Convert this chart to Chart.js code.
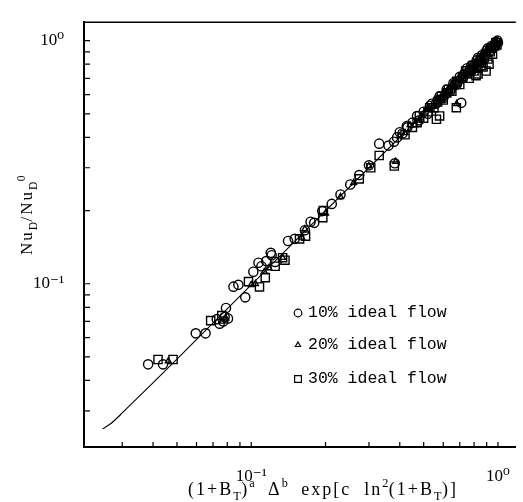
<!DOCTYPE html>
<html>
<head>
<meta charset="utf-8">
<script src="https://cdn.jsdelivr.net/npm/chart.js@4"></script>
<style>
  body { margin: 0; background: #fff; }
  #chart { display: block; }
</style>
</head>
<body>
<canvas id="chart" width="523" height="502"></canvas>
<script>
// 10% ideal flow (circles)
const circleX = [0.0382, 0.0439, 0.0596, 0.0653, 0.0725, 0.0745, 0.077, 0.078, 0.0805, 0.079,
  0.0847, 0.0887, 0.0946, 0.102, 0.107, 0.110, 0.115, 0.120, 0.121, 0.125, 0.141, 0.150,
  0.165, 0.174, 0.180, 0.194, 0.212, 0.230, 0.252, 0.274, 0.300, 0.330, 0.382, 0.379, 0.390,
  0.410, 0.427, 0.45, 0.48, 0.50, 0.52, 0.54, 0.56, 0.58, 0.60, 0.62, 0.64, 0.66, 0.68, 0.70,
  0.72, 0.74, 0.76, 0.78, 0.80, 0.82, 0.84, 0.86, 0.88, 0.90, 0.92, 0.94, 0.96, 0.98, 1.0, 0.71,
  0.47, 0.53, 0.57, 0.61, 0.65, 0.69, 0.73, 0.77, 0.81, 0.85, 0.89, 0.93, 0.97, 0.995, 0.43,
  0.40, 0.36, 0.75, 0.83, 0.91];
const circleY = [0.0466, 0.0466, 0.0625, 0.0625, 0.0715, 0.0685, 0.070, 0.073, 0.072, 0.0795,
  0.0973, 0.099, 0.0879, 0.112, 0.122, 0.118, 0.124, 0.134, 0.131, 0.123, 0.150, 0.153,
  0.166, 0.180, 0.178, 0.199, 0.213, 0.233, 0.256, 0.280, 0.307, 0.377, 0.313, 0.384, 0.400,
  0.415, 0.445, 0.46, 0.47, 0.51, 0.50, 0.55, 0.55, 0.59, 0.58, 0.63, 0.62, 0.67, 0.66, 0.71,
  0.70, 0.75, 0.74, 0.79, 0.78, 0.83, 0.82, 0.87, 0.86, 0.91, 0.90, 0.95, 0.94, 0.99, 0.98, 0.555,
  0.49, 0.54, 0.57, 0.60, 0.64, 0.68, 0.73, 0.76, 0.80, 0.84, 0.88, 0.93, 0.96, 1.0, 0.44,
  0.42, 0.37, 0.77, 0.85, 0.93];

// 20% ideal flow (triangles)
const triX = [0.0461, 0.076, 0.079, 0.100, 0.104, 0.113, 0.118, 0.134, 0.160, 0.165, 0.200,
  0.230, 0.260, 0.300, 0.385, 0.400, 0.420, 0.46, 0.49, 0.51, 0.53, 0.55, 0.57, 0.59, 0.61,
  0.63, 0.65, 0.67, 0.69, 0.71, 0.73, 0.75, 0.77, 0.79, 0.81, 0.83, 0.85, 0.87, 0.89, 0.91,
  0.93, 0.95, 0.97, 0.99, 0.68, 0.48, 0.52, 0.56, 0.60, 0.64, 0.68, 0.72, 0.76, 0.80, 0.84,
  0.88, 0.92, 0.96, 0.98, 0.44];
const triY = [0.048, 0.070, 0.072, 0.099, 0.100, 0.112, 0.116, 0.128, 0.155, 0.168, 0.195,
  0.228, 0.260, 0.305, 0.318, 0.405, 0.418, 0.45, 0.49, 0.52, 0.52, 0.54, 0.58, 0.57, 0.61,
  0.62, 0.66, 0.65, 0.70, 0.69, 0.73, 0.73, 0.78, 0.77, 0.81, 0.80, 0.86, 0.84, 0.90, 0.88,
  0.94, 0.92, 0.98, 0.97, 0.55, 0.47, 0.53, 0.56, 0.59, 0.64, 0.68, 0.71, 0.76, 0.79, 0.84,
  0.88, 0.92, 0.96, 1.0, 0.45];

// 30% ideal flow (squares)
const squareX = [0.0419, 0.0482, 0.0685, 0.076, 0.0975, 0.108, 0.114, 0.125, 0.134, 0.137,
  0.157, 0.166, 0.195, 0.196, 0.274, 0.305, 0.330, 0.380, 0.420, 0.45, 0.47, 0.50, 0.52,
  0.55, 0.563, 0.57, 0.58, 0.60, 0.62, 0.65, 0.67, 0.678, 0.70, 0.72, 0.75, 0.765, 0.78,
  0.80, 0.815, 0.83, 0.84, 0.86, 0.88, 0.895, 0.91, 0.93, 0.95, 0.97, 0.99, 0.48, 0.53,
  0.59, 0.63, 0.68, 0.74, 0.79, 0.85, 0.89, 0.94, 0.98, 0.82, 0.87, 0.92];
const squareY = [0.0488, 0.0488, 0.0705, 0.074, 0.102, 0.097, 0.106, 0.118, 0.128, 0.125,
  0.153, 0.157, 0.187, 0.200, 0.270, 0.300, 0.337, 0.305, 0.410, 0.44, 0.46, 0.48, 0.51,
  0.53, 0.475, 0.56, 0.49, 0.57, 0.61, 0.62, 0.66, 0.53, 0.66, 0.71, 0.73, 0.70, 0.76,
  0.75, 0.718, 0.73, 0.81, 0.79, 0.85, 0.75, 0.84, 0.90, 0.88, 0.95, 0.96, 0.49, 0.53,
  0.59, 0.63, 0.68, 0.75, 0.79, 0.83, 0.88, 0.93, 0.98, 0.77, 0.78, 0.80];

// correlation curve
const fitX = [0.025, 0.027, 0.030, 0.050, 0.100, 0.300, 1.000];
const fitY = [0.0253, 0.0266, 0.0294, 0.049, 0.099, 0.300, 1.000];

// tick positions (log minor ticks), labels only at decades
const xTicks = [0.03, 0.04, 0.05, 0.06, 0.07, 0.08, 0.09, 0.1, 0.2, 0.3, 0.4, 0.5, 0.6, 0.7, 0.8, 0.9, 1];
const yTicks = [0.03, 0.04, 0.05, 0.06, 0.07, 0.08, 0.09, 0.1, 0.2, 0.3, 0.4, 0.5, 0.6, 0.7, 0.8, 0.9, 1];
const decadeLabels = { '0.1': '10⁻¹', '1': '10⁰' };

const legendLabels = ['10% ideal flow', '20% ideal flow', '30% ideal flow'];

const pts = (xs, ys) => xs.map((x, i) => ({ x: x, y: ys[i] }));

const serif = '"Liberation Serif", "DejaVu Serif", serif';

// draw a run of text pieces: [text, 0 normal | 1 subscript | 2 superscript]
function setPart(ctx, m, size) {
  ctx.font = (m ? size * 0.68 : size) + 'px ' + serif;
  ctx.letterSpacing = (m ? 0.5 : 2) + 'px';
}
function richWidth(ctx, parts, size) {
  let w = 0;
  parts.forEach(([t, m]) => {
    setPart(ctx, m, size);
    w += ctx.measureText(t).width;
  });
  return w;
}
function drawRich(ctx, parts, cx, cy, size, angle) {
  ctx.save();
  ctx.translate(cx, cy);
  ctx.rotate(angle);
  ctx.fillStyle = '#000';
  ctx.textBaseline = 'alphabetic';
  ctx.textAlign = 'left';
  let x = -richWidth(ctx, parts, size) / 2;
  parts.forEach(([t, m]) => {
    setPart(ctx, m, size);
    const dy = m === 1 ? size * 0.28 : (m === 2 ? -size * 0.42 : 0);
    ctx.fillText(t, x, dy);
    x += ctx.measureText(t).width;
  });
  ctx.restore();
}

const xTitle = [['(1+B', 0], ['T', 1], [')', 0], ['a', 2], ['  Δ', 0], ['b', 2], ['  exp[c  ln', 0], ['2', 2], ['(1+B', 0], ['T', 1], [')]', 0]];
const yTitle = [['Nu', 0], ['D', 1], ['/Nu', 0], ['D', 1], ['0', 2]];

const framePlugin = {
  id: 'frame',
  afterDraw(chart) {
    const ctx = chart.ctx;
    const a = chart.chartArea;
    const xs = chart.scales.x, ys = chart.scales.y;
    ctx.save();
    ctx.strokeStyle = '#000';
    // top border
    ctx.lineWidth = 1.5;
    ctx.beginPath();
    ctx.moveTo(a.left, a.top);
    ctx.lineTo(a.right, a.top);
    ctx.stroke();
    // inward ticks
    ctx.lineWidth = 1.2;
    ctx.beginPath();
    xs.ticks.forEach(t => {
      const p = xs.getPixelForValue(t.value);
      ctx.moveTo(p, a.bottom);
      ctx.lineTo(p, a.bottom - 5);
    });
    ys.ticks.forEach(t => {
      const p = ys.getPixelForValue(t.value);
      ctx.moveTo(a.left, p);
      ctx.lineTo(a.left + 6, p);
    });
    ctx.stroke();

    // legend inside the plot
    const rowsY = [313, 345, 379];
    chart.data.datasets.slice(0, 3).forEach((ds, i) => {
      ctx.strokeStyle = '#000';
      ctx.fillStyle = 'rgba(0,0,0,0)';
      Chart.helpers.drawPoint(ctx, {
        pointStyle: ds.pointStyle,
        radius: ds.pointStyle === 'rect' ? 4.8 : (ds.pointStyle === 'triangle' ? 3 : 3.8),
        borderWidth: 1.3
      }, 298, rowsY[i]);
      ctx.fillStyle = '#000';
      ctx.font = '16.5px "Liberation Mono", monospace';
      ctx.textBaseline = 'middle';
      ctx.textAlign = 'left';
      ctx.fillText(legendLabels[i], 308, rowsY[i]);
    });
    ctx.restore();

    drawRich(ctx, xTitle, 323, 495, 18, 0);
    drawRich(ctx, yTitle, 32, 215, 17, -Math.PI / 2);
  }
};

const markerStyle = {
  showLine: false,
  borderColor: '#000',
  backgroundColor: 'rgba(0,0,0,0)',
  borderWidth: 1.4,
  pointBorderWidth: 1.4,
  pointHoverRadius: 4
};

new Chart(document.getElementById('chart'), {
  type: 'scatter',
  data: {
    datasets: [
      Object.assign({ label: legendLabels[0], data: pts(circleX, circleY), pointStyle: 'circle', pointRadius: 4.6 }, markerStyle),
      Object.assign({ label: legendLabels[1], data: pts(triX, triY), pointStyle: 'triangle', pointRadius: 3.4 }, markerStyle),
      Object.assign({ label: legendLabels[2], data: pts(squareX, squareY), pointStyle: 'rect', pointRadius: 5.8 }, markerStyle),
      {
        type: 'line',
        label: 'fit',
        data: pts(fitX, fitY),
        borderColor: '#000',
        borderWidth: 1.1,
        pointRadius: 0,
        tension: 0.3,
        fill: false
      }
    ]
  },
  options: {
    responsive: false,
    animation: false,
    devicePixelRatio: 1,
    layout: { padding: { top: 10, right: 3, left: 0, bottom: 0 } },
    plugins: {
      legend: { display: false },
      tooltip: { enabled: false }
    },
    scales: {
      x: {
        type: 'logarithmic',
        min: 0.021,
        max: 1.181,
        afterFit: s => { s.height = 55; },
        afterBuildTicks: s => { s.ticks = xTicks.map(v => ({ value: v })); },
        grid: { display: false },
        border: { display: true, color: '#000', width: 2 },
        ticks: {
          autoSkip: false,
          maxRotation: 0,
          padding: 11,
          color: '#000',
          font: { family: serif, size: 17 },
          callback: v => decadeLabels[String(v)] || ''
        }
      },
      y: {
        type: 'logarithmic',
        min: 0.0213,
        max: 1.191,
        afterFit: s => { s.width = 84; },
        afterBuildTicks: s => { s.ticks = yTicks.map(v => ({ value: v })); },
        grid: { display: false },
        border: { display: true, color: '#000', width: 2 },
        ticks: {
          autoSkip: false,
          padding: 12,
          color: '#000',
          font: { family: serif, size: 17 },
          callback: v => decadeLabels[String(v)] || ''
        }
      }
    }
  },
  plugins: [framePlugin]
});
</script>
</body>
</html>
